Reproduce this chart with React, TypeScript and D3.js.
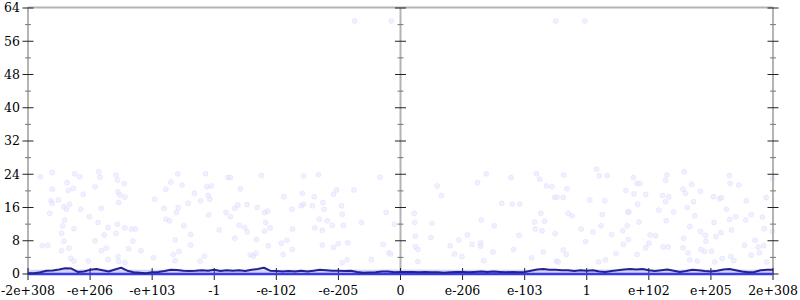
import React from "react";
import * as d3 from "d3";

// x positions are in axis-tick units (-6 .. 6), tick labels below
const tickLabels = ["-2e+308", "-e+206", "-e+103", "-1", "-e-102", "-e-205", "0", "e-206", "e-103", "1", "e+102", "e+205", "2e+308"];
const tickPositions = [-6, -5, -4, -3, -2, -1, 0, 1, 2, 3, 4, 5, 6];
const yTicks = [0, 8, 16, 24, 32, 40, 48, 56, 64];
const yMinorTicks = [4, 12, 20, 28, 36, 44, 52, 60];

// scattered samples: x (axis units) and value
const pointX = [
  -5.61, -5.25, -4.86, -4.58, -5.80, -5.17, -4.84, -4.56, -4.45, -5.37, -5.61, -5.27, -4.92, -5.35, -5.11, -4.55, -4.52, -4.44,
  -5.63, -5.51, -5.61, -5.42, -5.33, -5.38, -5.15, -4.82, -4.54, -5.65, -5.01, -5.41, -4.87, -5.44, -5.26, -4.71, -4.56, -4.44,
  -4.33, -4.27, -5.46, -4.77, -4.58, -5.42, -4.92, -4.31, -5.77, -5.68, -5.46, -5.34, -4.82, -4.74, -4.38, -4.18, -4.71, -4.55,
  -4.54, -5.31, -5.26, -5.03, -4.44, -3.98, -3.59, -3.14, -3.70, -3.52, -3.12, -3.05, -3.78, -3.32, -3.10, -3.96, -3.22, -3.07,
  -3.58, -3.81, -3.61, -3.42, -3.78, -3.72, -3.09, -3.49, -3.38, -3.63, -3.38, -3.57, -3.66, -3.63, -3.16, -3.23,
  -2.78, -2.74, -2.24, -1.56, -1.32, -0.33, -2.58, -1.88, -1.58, -1.39, -1.08, -1.03, -0.75, -2.67, -2.62, -2.47, -2.31, -2.81,
  -2.74, -2.19, -2.14, -1.75, -1.60, -1.56, -1.42, -1.25, -1.23, -0.95, -0.94, -0.23, -2.92, -2.60, -2.51, -2.47, -2.17, -2.10,
  -2.19, -1.74, -1.38, -1.31, -1.26, -1.18, -1.10, -0.92, -0.63, -0.10, -2.67, -2.32, -2.13, -1.92, -1.83, -1.74, -1.26, -1.08,
  -1.00, -0.85, -0.28, -2.42, -2.37, -2.33, -1.89, -0.94, -0.86, -0.47, -0.19, -0.16,
  1.38, 1.78, 2.19, 2.24, 2.63, 0.59, 1.24, 2.35, 2.44, 0.66, 2.48, 2.52, 2.62, 2.68, 1.63, 1.80, 1.92, 0.22, 0.23, 0.51, 1.30,
  1.51, 2.26, 2.16, 2.32, 2.17, 2.28, 2.70, 2.76, 2.91, 0.24, 0.49, 1.08, 0.94, 1.29, 1.29, 1.91, 2.49, 2.98, 0.24, 0.28, 0.80,
  1.15, 1.49, 1.82, 2.30, 2.62, 2.67, 0.87, 0.99, 0.28, 1.34, 2.11, 2.51, 2.54,
  3.16, 3.20, 3.33, 3.75, 3.81, 3.86, 4.29, 4.27, 4.57, 4.69, 5.30, 5.31, 5.45, 5.99, 3.63, 3.76, 3.95, 4.22, 4.32, 4.27, 4.55,
  4.59, 4.83, 4.72, 3.05, 3.29, 3.82, 4.62, 5.04, 5.14, 5.17, 5.57, 5.89, 3.25, 3.66, 3.68, 4.16, 4.40, 4.74, 5.05, 5.25, 5.30,
  5.40, 5.56, 5.65, 5.83, 5.86, 5.99, 3.10, 3.23, 3.40, 3.58, 3.65, 3.84, 4.02, 4.11, 4.28, 4.56, 4.66, 4.83, 4.91, 4.92, 5.08,
  5.16, 5.33, 5.71, 5.54, 5.76, 5.85, 3.59, 3.47, 3.67, 3.81, 3.95, 4.00, 4.23, 4.31, 4.55, 4.63, 4.84, 4.90, 5.01, 5.18, 5.32,
  5.65, 5.78, 3.19, 3.30, 4.66, 4.78, 5.06, 5.37, 5.90,
  -0.74, -0.15, 2.50, 2.97,
];
const pointV = [
  24.4, 24.1, 24.6, 23.8, 23.4, 23.4, 23.3, 22.6, 21.7, 22.0, 20.4, 20.6, 21.0, 20.1, 19.2, 19.7, 19.0, 18.5,
  17.6, 17.8, 17.0, 16.2, 16.8, 15.6, 15.6, 15.8, 17.2, 14.6, 13.8, 13.0, 12.4, 11.6, 10.9, 11.2, 12.0, 11.1,
  10.8, 10.8, 9.8, 9.4, 9.8, 7.9, 8.0, 7.9, 6.8, 6.9, 5.6, 6.2, 5.6, 6.2, 6.1, 5.6, 3.5, 4.2,
  3.0, 3.8, 3.1, 3.1, 2.7, 3.9, 24.1, 24.1, 22.1, 21.4, 21.0, 21.2, 20.4, 19.4, 18.9, 18.0, 17.6, 18.0,
  16.0, 15.8, 14.8, 17.0, 13.2, 12.8, 14.2, 11.6, 9.5, 8.2, 7.0, 5.4, 4.7, 3.2, 4.3, 3.1,
  23.2, 23.2, 23.7, 23.6, 23.9, 23.3, 20.5, 18.6, 19.4, 18.6, 19.2, 20.2, 20.2, 15.8, 16.6, 16.7, 16.0, 14.8,
  13.8, 14.8, 15.1, 15.6, 16.4, 16.8, 16.4, 17.2, 15.6, 16.4, 14.4, 14.8, 10.6, 11.7, 11.2, 10.1, 12.4, 11.1,
  10.3, 10.8, 11.1, 13.2, 10.5, 12.8, 11.7, 11.7, 12.4, 12.0, 8.6, 8.3, 6.8, 7.4, 8.1, 5.9, 7.0, 6.4,
  7.3, 7.5, 7.1, 4.6, 4.3, 5.0, 4.7, 2.7, 3.4, 3.5, 5.1, 4.8,
  24.1, 23.2, 24.1, 22.8, 23.8, 21.2, 22.0, 21.2, 21.0, 18.9, 18.4, 18.5, 18.4, 20.5, 17.0, 16.8, 16.8, 14.6, 12.4, 12.2, 13.0,
  11.6, 14.6, 12.5, 12.7, 10.8, 10.4, 14.6, 14.0, 10.8, 9.1, 8.8, 9.4, 8.2, 7.5, 6.7, 9.3, 9.7, 7.8, 6.6, 5.9, 6.8,
  7.1, 5.3, 5.9, 5.3, 5.8, 4.7, 4.8, 4.2, 3.0, 3.2, 3.9, 3.1, 2.9,
  25.2, 23.6, 23.7, 23.2, 21.8, 21.8, 23.8, 22.5, 24.6, 21.6, 23.7, 21.8, 21.4, 22.9, 20.1, 19.3, 19.1, 18.9, 18.6, 17.4, 20.4,
  19.4, 19.9, 17.4, 17.8, 17.6, 16.8, 16.0, 18.6, 18.1, 18.4, 17.6, 18.4, 14.3, 14.9, 14.9, 15.4, 14.9, 14.0, 12.4, 15.6, 13.1,
  13.8, 13.0, 14.3, 13.7, 10.9, 10.2, 10.1, 11.6, 9.5, 10.4, 11.6, 12.5, 9.4, 9.2, 12.8, 8.6, 11.4, 10.2, 9.3, 7.9, 9.0,
  10.0, 10.6, 8.1, 6.9, 6.5, 6.8, 7.1, 4.9, 8.3, 4.7, 6.3, 7.4, 6.5, 6.5, 6.3, 5.1, 5.9, 5.4, 5.5, 3.7, 4.2,
  4.5, 5.1, 2.9, 3.4, 3.4, 3.1, 2.9, 3.2, 2.9,
  60.9, 60.9, 60.9, 60.9,
];

// mean line, evenly spaced from -6 to 6
const meanValues = [
  0.2, 0.2, 0.4, 0.8, 0.85, 1.1, 1.4, 1.3, 0.5, 0.6, 1.0, 1.2, 0.9, 0.6, 1.1, 1.5, 0.8, 0.4, 0.3, 0.2, 0.4, 0.5, 0.7, 1.0,
  0.95, 0.8, 0.75, 0.8, 0.9, 0.8, 1.0, 0.7, 0.9, 0.8, 0.9, 0.7, 1.0, 1.2, 1.5, 0.8, 0.7, 0.6, 0.7, 0.6, 0.8, 0.6, 0.8, 1.0,
  0.9, 0.8, 0.8, 0.7, 0.8, 0.5, 0.3, 0.35, 0.4, 0.6, 0.6, 0.4, 0.5,
  0.5, 0.5, 0.4, 0.5, 0.4, 0.4, 0.3, 0.4, 0.5, 0.5, 0.4, 0.5, 0.6, 0.5, 0.6, 0.5, 0.4, 0.5, 0.4, 0.5, 0.8, 1.1, 1.2, 1.0,
  1.0, 0.9, 0.9, 0.7, 0.9, 0.8, 0.9, 0.6, 0.5, 0.7, 0.9, 1.1, 1.2, 1.1, 1.2, 0.9, 0.7, 0.9, 1.1, 0.8, 0.5, 0.7, 1.0, 0.9,
  0.7, 0.6, 0.8, 1.1, 1.2, 0.9, 0.6, 0.4, 0.5, 0.9, 1.0, 1.0,
];
// upper edge of the light band
const bandValues = [1.0, 1.1, 1.0, 1.1, 1.0, 1.0, 1.1, 1.0, 1.0, 1.1, 1.0, 1.1, 1.0];

const L = 28, R = 773, T = 8, B = 274;

export default function App() {
  const x = d3.scaleLinear().domain([-6, 6]).range([L, R]);
  const y = d3.scaleLinear().domain([0, 64]).range([B, T]);
  const meanX = d3.scaleLinear().domain([0, meanValues.length - 1]).range([-6, 6]);
  const bandX = d3.scaleLinear().domain([0, bandValues.length - 1]).range([-6, 6]);

  const line = d3.line<number>().x((d, i) => x(meanX(i))).y((d) => y(d));
  const area = d3.area<number>().x((d, i) => x(bandX(i))).y0(y(0)).y1((d) => y(d));

  const font = "DejaVu Serif";
  const axes = [L, x(0), R];

  return (
    <svg width={800} height={300} style={{ position: "fixed", left: 0, top: 0 }} fontFamily={font}>
      <rect width={800} height={300} fill="#fff" />
      {/* scatter */}
      <g>
        {pointX.map((px, i) => (
          <circle key={i} cx={x(px)} cy={y(pointV[i])} r={2.5} fill="#e4e4ff" fillOpacity={0.55} stroke="#d4d4ff" strokeOpacity={0.45} strokeWidth={0.8} />
        ))}
      </g>
      {/* band */}
      <path d={area(bandValues) || ""} fill="#7070ff" fillOpacity={0.3} />
      {/* frame */}
      <line x1={L} x2={R} y1={T - 0.5} y2={T - 0.5} stroke="#b4b4b4" strokeWidth={2} />
      {axes.map((ax, i) => (
        <line key={i} x1={ax} x2={ax} y1={T - 1} y2={B} stroke="#b4b4b4" strokeWidth={2} />
      ))}
      {/* y ticks */}
      {axes.map((ax, j) => (
        <g key={j}>
          {yTicks.map((t) => (
            <line key={t} x1={ax - 5.5} x2={ax + 5.5} y1={y(t)} y2={y(t)} stroke="#222" strokeWidth={1} />
          ))}
          {yMinorTicks.map((t) => (
            <line key={t} x1={ax - 3} x2={ax + 3} y1={y(t)} y2={y(t)} stroke="#777" strokeWidth={1} />
          ))}
        </g>
      ))}
      {yTicks.map((t) => (
        <text key={t} x={20} y={y(t)} dy="0.35em" textAnchor="end" fontSize={12.5} fill="#000">
          {t}
        </text>
      ))}
      {/* x ticks */}
      {tickPositions.map((p, i) => (
        <g key={i}>
          <line x1={x(p)} x2={x(p)} y1={B - 6} y2={B + 6} stroke="#222" strokeWidth={1} />
          <text x={x(p)} y={295} textAnchor="middle" fontSize={12.5} fill="#000">
            {tickLabels[i]}
          </text>
        </g>
      ))}
      {/* baseline median */}
      <line x1={L} x2={R} y1={y(0)} y2={y(0)} stroke="#3a3ae6" strokeWidth={2.5} />
      {/* mean line */}
      <path d={line(meanValues) || ""} fill="none" stroke="#23238f" strokeWidth={2} strokeLinejoin="round" />
    </svg>
  );
}
